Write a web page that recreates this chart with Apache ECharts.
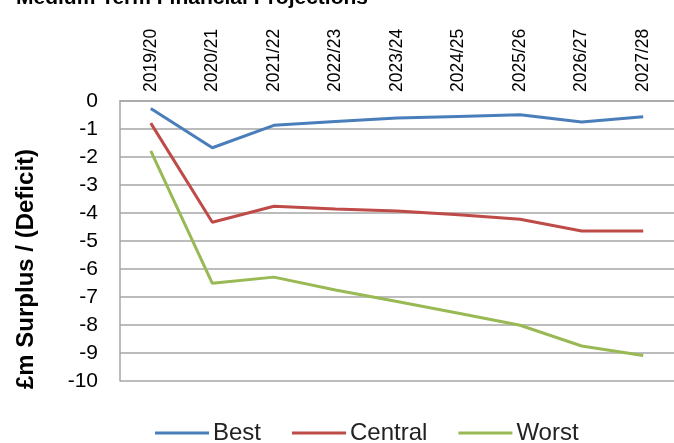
<!DOCTYPE html>
<html>
<head>
<meta charset="utf-8">
<script src="https://cdn.jsdelivr.net/npm/echarts@6/dist/echarts.min.js"></script>
<style>
  html, body { margin: 0; padding: 0; background: #fff; }
  #chart { width: 674px; height: 443px; }
</style>
</head>
<body>
<div id="chart"></div>
<script>
// financial years along the top axis
const years = ['2019/20', '2020/21', '2021/22', '2022/23', '2023/24', '2024/25', '2025/26', '2026/27', '2027/28'];
// £m surplus / (deficit) per scenario
const best = [-0.27, -1.67, -0.87, -0.73, -0.61, -0.55, -0.49, -0.75, -0.56];
const central = [-0.79, -4.33, -3.76, -3.86, -3.93, -4.06, -4.22, -4.64, -4.64];
const worst = [-1.78, -6.51, -6.29, -6.75, -7.16, -7.58, -8.01, -8.75, -9.09];

const font = 'Liberation Sans, Arial, sans-serif';
const chart = echarts.init(document.getElementById('chart'));

const option = {
  animation: false,
  grid: { left: 120, top: 101, width: 556, height: 280, containLabel: false },
  graphic: [
    {
      // title cut off at the top edge of the picture
      type: 'text', left: 16, top: -12,
      style: { text: 'Medium Term Financial Projections', fontSize: 21, fontWeight: 'bold', fontFamily: font, fill: '#000' }
    },
    {
      type: 'text', x: 14, y: 389, rotation: Math.PI / 2,
      style: { text: '£m Surplus / (Deficit)', fontSize: 24, fontWeight: 'bold', fontFamily: font, fill: '#000' }
    }
  ],
  legend: {
    top: 416, left: 150,
    icon: 'rect', itemWidth: 54, itemHeight: 3, itemGap: 31,
    textStyle: { fontSize: 24, fontFamily: font, color: '#222', padding: [0, 0, 0, -1] },
    data: ['Best', 'Central', 'Worst']
  },
  xAxis: {
    type: 'category',
    position: 'top',
    data: years,
    boundaryGap: true,
    axisLine: { show: true, lineStyle: { color: '#a6a6a6', width: 1.5 } },
    axisTick: { show: false },
    axisLabel: { rotate: 90, fontSize: 17.5, fontFamily: font, color: '#000', margin: 9 },
    splitLine: { show: false }
  },
  yAxis: {
    type: 'value',
    min: -10, max: 0, interval: 1,
    axisLine: { show: true, lineStyle: { color: '#a6a6a6', width: 1.5 } },
    axisTick: { show: false },
    axisLabel: { fontSize: 21, fontFamily: font, color: '#000', margin: 22 },
    splitLine: { show: true, lineStyle: { color: '#a6a6a6', width: 1.5 } }
  },
  series: [
    { name: 'Best', type: 'line', data: best, symbol: 'none', lineStyle: { color: '#4a7ebb', width: 3 }, itemStyle: { color: '#4a7ebb' } },
    { name: 'Central', type: 'line', data: central, symbol: 'none', lineStyle: { color: '#be4b48', width: 3 }, itemStyle: { color: '#be4b48' } },
    { name: 'Worst', type: 'line', data: worst, symbol: 'none', lineStyle: { color: '#98b954', width: 3 }, itemStyle: { color: '#98b954' } }
  ]
};
chart.setOption(option);
</script>
</body>
</html>
